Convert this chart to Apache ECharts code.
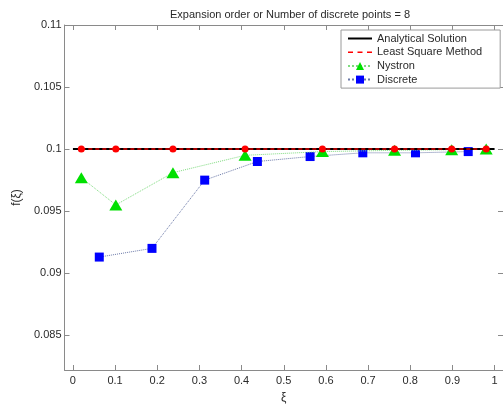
<!DOCTYPE html>
<html>
<head>
<meta charset="utf-8">
<script src="https://cdn.jsdelivr.net/npm/echarts@6/dist/echarts.min.js"></script>
<style>
  html, body { margin: 0; padding: 0; background: #fff; }
  #chart { width: 503px; height: 409px; }
</style>
</head>
<body>
<div id="chart"></div>
<script>
// Collocation nodes (8-point Gauss–Legendre on [0,1]) and midpoint nodes
const gaussNodes = [0.0199, 0.1017, 0.2372, 0.4083, 0.5917, 0.7628, 0.8983, 0.9801];
const discreteNodes = [0.0625, 0.1875, 0.3125, 0.4375, 0.5625, 0.6875, 0.8125, 0.9375];

// f(xi) values for each method
const analyticalX = [0, 1];
const analyticalValues = [0.1, 0.1];
const lsmValues = [0.1, 0.1, 0.1, 0.1, 0.1, 0.1, 0.1, 0.1];
const nystronValues = [0.0977, 0.0955, 0.0981, 0.0995, 0.0998, 0.0999, 0.09995, 0.1];
const discreteValues = [0.0913, 0.0920, 0.0975, 0.0990, 0.0994, 0.0997, 0.0997, 0.0998];

// Axis ticks
const xTicks = [0, 0.1, 0.2, 0.3, 0.4, 0.5, 0.6, 0.7, 0.8, 0.9, 1];
const yTicks = [0.085, 0.09, 0.095, 0.1, 0.105, 0.11];

const zip = (xs, ys) => xs.map((x, i) => [x, ys[i]]);

const axisColor = '#8a8a8a';
const textColor = '#2a2a2a';
const font = 'Liberation Sans, Arial, sans-serif';

// Legend glyphs: solid bar and a three-dash bar
const solidIcon = 'path://M0,0 L24,0 L24,2 L0,2 Z';
const dashIcon = 'path://M0,0 L5,0 L5,1.5 L0,1.5 Z M9.5,0 L14.5,0 L14.5,1.5 L9.5,1.5 Z M19,0 L24,0 L24,1.5 L19,1.5 Z';

const chart = echarts.init(document.getElementById('chart'), null, { renderer: 'canvas' });

const xBase = {
  type: 'value', min: -0.02, max: 1.02,
  axisLine: { show: true, onZero: false, lineStyle: { color: axisColor, width: 1 } },
  axisTick: { show: true, inside: true, length: 5, customValues: xTicks, lineStyle: { color: axisColor } },
  splitLine: { show: false }
};
const yBase = {
  type: 'value', min: 0.0822, max: 0.11,
  axisLine: { show: true, onZero: false, lineStyle: { color: axisColor, width: 1 } },
  axisTick: { show: true, inside: true, length: 5, customValues: yTicks, lineStyle: { color: axisColor } },
  splitLine: { show: false }
};

chart.setOption({
  animation: false,
  backgroundColor: '#fff',
  title: {
    text: 'Expansion order or Number of discrete points = 8',
    left: 285, top: 4, textAlign: 'center',
    textStyle: { fontFamily: font, fontSize: 11, fontWeight: 'normal', color: textColor }
  },
  grid: { left: 64.5, top: 25, width: 441, height: 345, containLabel: false },
  legend: {
    orient: 'vertical', left: 341, top: 30,
    data: [
      { name: 'Analytical Solution', icon: solidIcon },
      { name: 'Least Square Method', icon: dashIcon },
      'Nystron',
      'Discrete'
    ],
    backgroundColor: '#fff', borderColor: '#9a9a9a', borderWidth: 1,
    padding: [3, 18, 3, 6],
    itemWidth: 24, itemHeight: 10, itemGap: 2.7,
    textStyle: { fontFamily: font, fontSize: 11, color: textColor, padding: [0, 0, 0, 0] }
  },
  xAxis: [
    Object.assign({}, xBase, {
      position: 'bottom',
      name: 'ξ', nameLocation: 'middle', nameGap: 22,
      nameTextStyle: { fontFamily: font, fontSize: 12, color: textColor },
      axisLabel: {
        show: true, margin: 5, customValues: xTicks,
        fontFamily: font, fontSize: 11, color: textColor,
        formatter: v => String(v)
      }
    }),
    Object.assign({}, xBase, { position: 'top', axisLabel: { show: false } })
  ],
  yAxis: [
    Object.assign({}, yBase, {
      position: 'left',
      name: 'f(ξ)', nameLocation: 'middle', nameGap: 34, nameRotate: 90,
      nameTextStyle: { fontFamily: font, fontSize: 12, color: textColor },
      axisLabel: {
        show: true, margin: 3, customValues: yTicks,
        fontFamily: font, fontSize: 11, color: textColor,
        formatter: v => String(+v.toFixed(4))
      }
    }),
    Object.assign({}, yBase, { position: 'right', axisLabel: { show: false } })
  ],
  series: [
    {
      name: 'Discrete', type: 'line', z: 2,
      data: zip(discreteNodes, discreteValues),
      symbol: 'rect', symbolSize: 9,
      itemStyle: { color: '#0000ff' },
      lineStyle: { color: '#6a78a8', width: 1, type: 'dotted' }
    },
    {
      name: 'Nystron', type: 'line', z: 3,
      data: zip(gaussNodes, nystronValues),
      symbol: 'triangle', symbolSize: [13, 11],
      itemStyle: { color: '#00e000' },
      lineStyle: { color: '#7fdc7f', width: 1, type: 'dotted' }
    },
    {
      name: 'Analytical Solution', type: 'line', z: 4,
      data: zip(analyticalX, analyticalValues),
      symbol: 'none',
      itemStyle: { color: '#000' },
      lineStyle: { color: '#000', width: 2 }
    },
    {
      name: 'Least Square Method', type: 'line', z: 5,
      data: zip(gaussNodes, lsmValues),
      symbol: 'circle', symbolSize: 7,
      itemStyle: { color: '#ff0000' },
      lineStyle: { color: '#e00000', width: 1.5, type: [4, 3] }
    }
  ]
});
</script>
</body>
</html>
